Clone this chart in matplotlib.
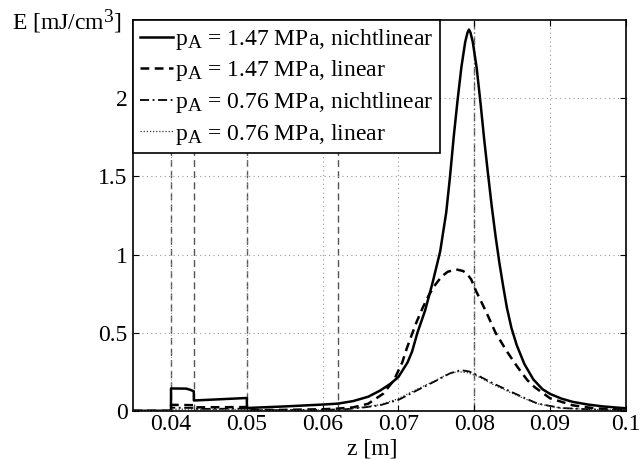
import matplotlib
matplotlib.use("Agg")
import matplotlib.pyplot as plt
import matplotlib._mathtext as _mt

_mt.SHRINK_FACTOR = 0.82

plt.rcParams['font.family'] = ['Liberation Serif', 'DejaVu Serif']
plt.rcParams['mathtext.fontset'] = 'custom'
plt.rcParams['mathtext.rm'] = 'Liberation Serif'
plt.rcParams['mathtext.it'] = 'Liberation Serif:italic'

# Data
z_nl147 = [0.035, 0.03999, 0.04, 0.042, 0.0425, 0.043, 0.04301, 0.05, 0.05001, 0.055, 0.06,
           0.062, 0.064, 0.066, 0.0676, 0.069, 0.070, 0.0712, 0.0718, 0.0725, 0.0735, 0.0745,
           0.0755, 0.0763, 0.0768, 0.0773, 0.0778, 0.0783, 0.0788, 0.0791, 0.0793, 0.0795,
           0.0798, 0.0803, 0.0808, 0.0813, 0.0818, 0.0823, 0.0828, 0.0833, 0.0838, 0.0843,
           0.0849, 0.0856, 0.0866, 0.0878, 0.089, 0.090, 0.0915, 0.093, 0.095, 0.097, 0.1]
E_nl147 = [0.0, 0.0, 0.143, 0.142, 0.135, 0.125, 0.066, 0.082, 0.018, 0.028, 0.040,
           0.046, 0.062, 0.09, 0.13, 0.175, 0.217, 0.31, 0.38, 0.50, 0.64, 0.82,
           1.02, 1.27, 1.5, 1.76, 1.99, 2.2, 2.36, 2.42, 2.44, 2.42,
           2.36, 2.2, 1.98, 1.74, 1.52, 1.31, 1.12, 0.95, 0.80, 0.66,
           0.53, 0.42, 0.30, 0.20, 0.138, 0.108, 0.078, 0.057, 0.04, 0.028, 0.016]

z_l147 = [0.035, 0.03999, 0.04, 0.043, 0.04301, 0.05, 0.05001, 0.055, 0.06, 0.062, 0.064,
          0.066, 0.068, 0.0694, 0.0705, 0.0711, 0.0717, 0.0724, 0.0732, 0.074, 0.0749,
          0.0757, 0.0765, 0.0776, 0.0785, 0.079, 0.0796, 0.0802, 0.0815, 0.0828, 0.0843,
          0.0857, 0.087, 0.088, 0.090, 0.093, 0.096, 0.1]
E_l147 = [0.0, 0.0, 0.038, 0.036, 0.022, 0.024, 0.004, 0.006, 0.010, 0.014, 0.022,
          0.045, 0.11, 0.196, 0.31, 0.40, 0.48, 0.57, 0.66, 0.74, 0.81,
          0.86, 0.89, 0.905, 0.895, 0.88, 0.84, 0.77, 0.64, 0.50, 0.38,
          0.28, 0.196, 0.15, 0.08, 0.035, 0.015, 0.007]

z_nl076 = [0.035, 0.03999, 0.04, 0.043, 0.04301, 0.05, 0.05001, 0.06, 0.063, 0.0655, 0.0676,
           0.070, 0.072, 0.0751, 0.0768, 0.0782, 0.0793, 0.0804, 0.0825, 0.0844, 0.0865,
           0.0883, 0.0914, 0.095, 0.1]
E_nl076 = [0.0, 0.0, 0.020, 0.018, 0.012, 0.014, 0.003, 0.006, 0.010, 0.022, 0.036,
           0.07, 0.12, 0.196, 0.24, 0.26, 0.252, 0.228, 0.175, 0.132, 0.085,
           0.047, 0.018, 0.01, 0.004]

z_l076 = [0.035, 0.03999, 0.04, 0.043, 0.04301, 0.05, 0.05001, 0.06, 0.063, 0.0655, 0.0676,
          0.070, 0.072, 0.0751, 0.0765, 0.0778, 0.079, 0.0804, 0.0825, 0.0844, 0.0865,
          0.0883, 0.0914, 0.095, 0.1]
E_l076 = [0.0, 0.0, 0.010, 0.010, 0.008, 0.009, 0.002, 0.005, 0.010, 0.024, 0.040,
          0.078, 0.128, 0.20, 0.236, 0.25, 0.245, 0.222, 0.168, 0.125, 0.08,
          0.045, 0.017, 0.009, 0.004]

labels = [r'p$_\mathrm{A}$ = 1.47 MPa, nichtlinear',
          r'p$_\mathrm{A}$ = 1.47 MPa, linear',
          r'p$_\mathrm{A}$ = 0.76 MPa, nichtlinear',
          r'p$_\mathrm{A}$ = 0.76 MPa, linear']

vlines_dashed = [0.04, 0.043, 0.05, 0.062]
vline_dashdot = 0.08

xticks = [0.04, 0.05, 0.06, 0.07, 0.08, 0.09, 0.1]
xticklabels = ['0.04', '0.05', '0.06', '0.07', '0.08', '0.09', '0.1']
yticks = [0, 0.5, 1, 1.5, 2]
yticklabels = ['0', '0.5', '1', '1.5', '2']

fig = plt.figure(figsize=(6.4, 4.59), dpi=100)
ax = fig.add_axes([0.208, 0.105, 0.770, 0.851])

for xv in vlines_dashed:
    ax.axvline(xv, color='#555555', lw=1.0, ls=(0, (5, 3)), zorder=1)
ax.axvline(vline_dashdot, color='#555555', lw=1.0, ls=(0, (6, 2, 1, 2)), zorder=1)

ax.plot(z_nl147, E_nl147, color='black', lw=1.8, ls='-', label=labels[0], zorder=3)
ax.plot(z_l147, E_l147, color='black', lw=1.8, ls=(0, (3.5, 2.2)), label=labels[1], zorder=3)
ax.plot(z_nl076, E_nl076, color='black', lw=1.3, ls=(0, (5, 2, 1, 2)), label=labels[2], zorder=3)
ax.plot(z_l076, E_l076, color='#333333', lw=0.9, ls=(0, (1, 1.5)), label=labels[3], zorder=3)

ax.set_xlim(0.035, 0.1)
ax.set_ylim(0, 2.5)
ax.set_xticks(xticks)
ax.set_xticklabels(xticklabels)
ax.set_yticks(yticks)
ax.set_yticklabels(yticklabels)
ax.tick_params(direction='in', length=4, width=0.8, labelsize=17, top=True, right=True)
ax.tick_params(axis='x', pad=2)
ax.tick_params(axis='y', pad=4)
ax.grid(True, color='#999999', ls=(0, (1, 3)), lw=0.8)
for s in ax.spines.values():
    s.set_linewidth(1.2)

leg = ax.legend(loc='upper left', fontsize=17, frameon=True, fancybox=False,
                edgecolor='black', framealpha=1, handlelength=1.4, handletextpad=0.1,
                labelspacing=0.28, borderpad=0.28, borderaxespad=0.0)
leg.get_frame().set_linewidth(1.2)

fig.text(0.018, 0.952, r'E [mJ/cm$^3$]', fontsize=17, ha='left', va='center')
fig.text(0.582, 0.0, 'z [m]', fontsize=17, ha='center', va='bottom')

fig.savefig('out.png', dpi=100)
